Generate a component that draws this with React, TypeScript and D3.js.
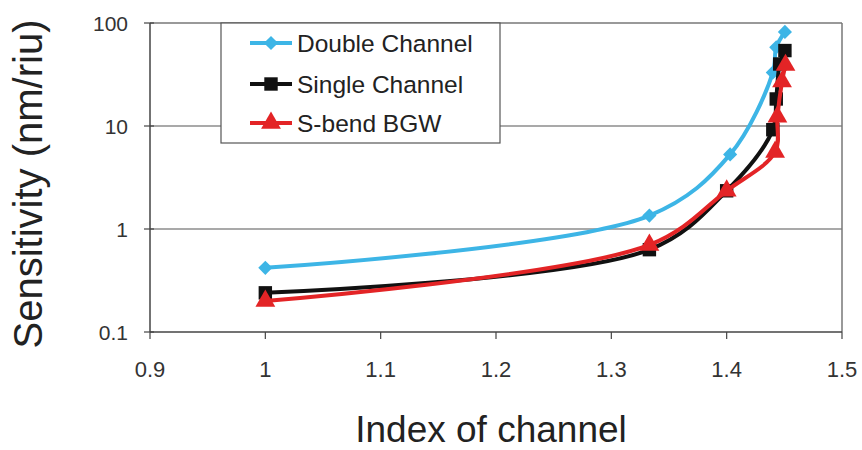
import React from "react";
import * as d3 from "d3";

const seriesNames = ["Double Channel", "Single Channel", "S-bend BGW"];
const doubleX = [1.0, 1.333, 1.403, 1.44, 1.443, 1.4505];
const doubleY = [0.42, 1.35, 5.3, 33, 58, 82];
const singleX = [1.0, 1.333, 1.4, 1.44, 1.443, 1.446, 1.4505];
const singleY = [0.24, 0.63, 2.35, 9.2, 18.3, 40, 54];
const sbendX = [1.0, 1.333, 1.4, 1.442, 1.444, 1.448, 1.451];
const sbendY = [0.2, 0.7, 2.35, 5.6, 12.3, 27, 39];
const xTicks = [0.9, 1, 1.1, 1.2, 1.3, 1.4, 1.5];
const yTicks = [0.1, 1, 10, 100];
const yTickLabels = ["0.1", "1", "10", "100"];
const xTitle = "Index of channel";
const yTitle = "Sensitivity (nm/riu)";

const W = 862, H = 450;
const L = 150, R = 842, T = 23, B = 332;
const FONT = "'Liberation Sans', Arial, Helvetica, sans-serif";
const colors = ["#3db5e6", "#111111", "#e32426"];
const shapes = [d3.symbolSquare, d3.symbolSquare, d3.symbolTriangle];
const sizes = [100, 180, 170];
const rotations = [45, 0, 0];

export default function App() {
  const x = d3.scaleLinear().domain([0.9, 1.5]).range([L, R]);
  const y = d3.scaleLog().domain([0.1, 100]).range([B, T]);
  const series = [
    { xs: doubleX, ys: doubleY },
    { xs: singleX, ys: singleY },
    { xs: sbendX, ys: sbendY },
  ];
  const line = d3
    .line<[number, number]>()
    .x((d) => x(d[0]))
    .y((d) => y(d[1]))
    .curve(d3.curveCatmullRom.alpha(0.5));
  const fmt = (v: number) => (v === 1 ? "1" : d3.format(".1f")(v));

  const legX = 221, legY = 23, legW = 279, legH = 120;
  const rowYs = [43, 84, 123];

  return (
    <svg width={W} height={H} style={{ display: "block", position: "absolute", left: 0, top: 0 }}>
      <rect x={0} y={0} width={W} height={H} fill="#fff" />
      {yTicks.slice(1, 3).map((t) => (
        <line key={t} x1={L} x2={R} y1={y(t)} y2={y(t)} stroke="#555" strokeWidth={1.2} />
      ))}
      <line x1={L} x2={R} y1={T} y2={T} stroke="#777" strokeWidth={1.5} />
      <line x1={R} x2={R} y1={T} y2={B} stroke="#777" strokeWidth={1.5} />
      <line x1={L} x2={L} y1={T} y2={B} stroke="#444" strokeWidth={1.5} />
      <line x1={L} x2={R} y1={B} y2={B} stroke="#444" strokeWidth={1.5} />
      {yTicks.map((t, i) => (
        <g key={t}>
          <line x1={L - 6} x2={L + 4} y1={y(t)} y2={y(t)} stroke="#444" strokeWidth={1.2} />
          <text x={128} y={y(t)} dy="0.36em" textAnchor="end" fontFamily={FONT} fontSize={21} fill="#333">
            {yTickLabels[i]}
          </text>
        </g>
      ))}
      {xTicks.map((t) => (
        <g key={t}>
          <line x1={x(t)} x2={x(t)} y1={B} y2={B + 7} stroke="#444" strokeWidth={1.2} />
          <text x={x(t)} y={377} textAnchor="middle" fontFamily={FONT} fontSize={22} fill="#333">
            {fmt(t)}
          </text>
        </g>
      ))}
      {series.map((s, i) => {
        const pts: [number, number][] = s.xs.map((v, j) => [v, s.ys[j]]);
        return (
          <g key={i}>
            <path d={line(pts) || ""} fill="none" stroke={colors[i]} strokeWidth={4} />
            {pts.map((p, j) => (
              <path
                key={j}
                d={d3.symbol().type(shapes[i]).size(sizes[i])() || ""}
                transform={`translate(${x(p[0])},${y(p[1])}) rotate(${rotations[i]})`}
                fill={colors[i]}
              />
            ))}
          </g>
        );
      })}
      <rect x={legX} y={legY} width={legW} height={legH} fill="#fff" stroke="#555" strokeWidth={1.2} />
      {seriesNames.map((n, i) => (
        <g key={n}>
          <line x1={250} x2={292} y1={rowYs[i]} y2={rowYs[i]} stroke={colors[i]} strokeWidth={4} />
          <path
            d={d3.symbol().type(shapes[i]).size(sizes[i])() || ""}
            transform={`translate(271,${rowYs[i]}) rotate(${rotations[i]})`}
            fill={colors[i]}
          />
          <text x={297} y={rowYs[i]} dy="0.36em" fontFamily={FONT} fontSize={24.5} fill="#222">
            {n}
          </text>
        </g>
      ))}
      <text x={491} y={442} textAnchor="middle" fontFamily={FONT} fontSize={37} fill="#222">
        {xTitle}
      </text>
      <text
        transform={`translate(42,184) rotate(-90)`}
        textAnchor="middle"
        fontFamily={FONT}
        fontSize={40}
        fill="#222"
      >
        {yTitle}
      </text>
    </svg>
  );
}
